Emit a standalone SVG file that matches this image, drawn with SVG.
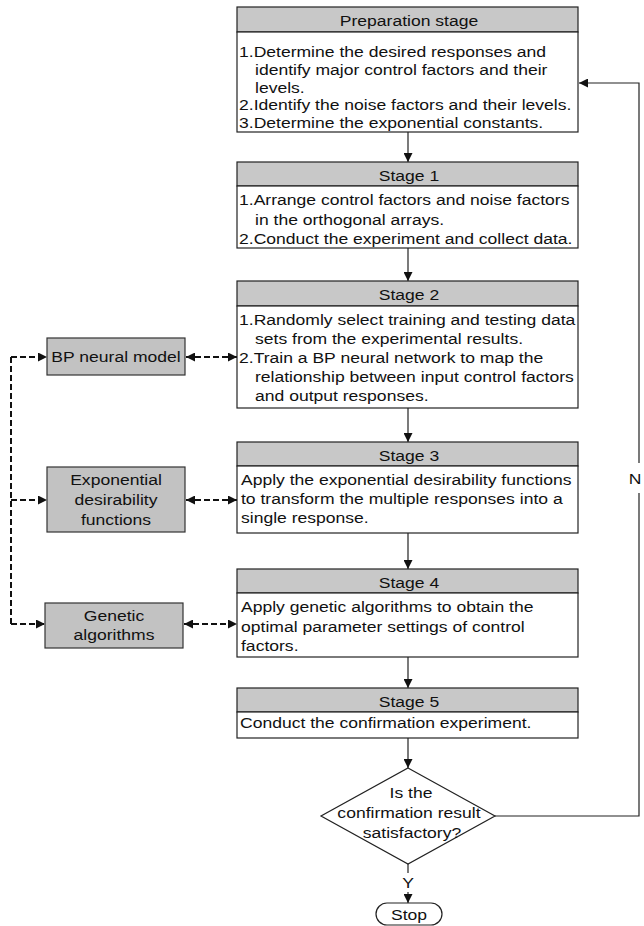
<svg xmlns="http://www.w3.org/2000/svg" width="644" height="926" viewBox="0 0 644 926">
<style>
.t{font-family:"Liberation Sans",Arial,sans-serif;font-size:15px;fill:#111}
.m{text-anchor:middle}
.hd{fill:#c8c8c8;stroke:#222;stroke-width:1.2}
.bd{fill:#fff;stroke:#222;stroke-width:1.2}
.side{fill:#c2c2c2;stroke:#333;stroke-width:1.2}
.ln{fill:none;stroke:#222;stroke-width:1.2}
.ds{fill:none;stroke:#111;stroke-width:2;stroke-dasharray:6 3}
</style>
<defs>
<marker id="a" viewBox="0 0 10 10" refX="10" refY="5" markerUnits="userSpaceOnUse" markerWidth="9" markerHeight="9" orient="auto-start-reverse">
<path d="M0,0 L10,5 L0,10 z" fill="#111"/>
</marker>
</defs>
<rect width="644" height="926" fill="#fff"/>

<g id="connectors">
<line class="ln" x1="408" y1="132" x2="408" y2="162" marker-end="url(#a)"/>
<line class="ln" x1="408" y1="248" x2="408" y2="281" marker-end="url(#a)"/>
<line class="ln" x1="408" y1="408" x2="408" y2="442" marker-end="url(#a)"/>
<line class="ln" x1="408" y1="533" x2="408" y2="569" marker-end="url(#a)"/>
<line class="ln" x1="408" y1="657" x2="408" y2="688" marker-end="url(#a)"/>
<line class="ln" x1="408" y1="738" x2="408" y2="768" marker-end="url(#a)"/>
<line class="ln" x1="408" y1="864" x2="408" y2="873"/>
<line class="ln" x1="408" y1="892" x2="408" y2="903" marker-end="url(#a)"/>
<polyline class="ln" points="495,816 639,816 639,493"/>
<polyline class="ln" points="639,463 639,83 579,83" marker-end="url(#a)"/>
<text class="t m" transform="translate(635 484) scale(1.17 1)">N</text>
<text class="t m" transform="translate(408 888) scale(1.17 1)">Y</text>
<polyline class="ds" points="11,357 11,624"/>
<line class="ds" x1="11" y1="357" x2="47" y2="357" marker-end="url(#a)"/>
<line class="ds" x1="11" y1="500" x2="47" y2="500" marker-end="url(#a)"/>
<line class="ds" x1="11" y1="624" x2="45" y2="624" marker-end="url(#a)"/>
<line class="ds" x1="186" y1="357" x2="237" y2="357" marker-start="url(#a)" marker-end="url(#a)"/>
<line class="ds" x1="186" y1="500" x2="237" y2="500" marker-start="url(#a)" marker-end="url(#a)"/>
<line class="ds" x1="184" y1="624" x2="237" y2="624" marker-start="url(#a)" marker-end="url(#a)"/>
</g>

<g id="prep">
<rect class="hd" x="237" y="7" width="341" height="25"/>
<rect class="bd" x="237" y="32" width="341" height="100"/>
<text class="t m" transform="translate(409 25.5) scale(1.17 1)">Preparation stage</text>
<text class="t" transform="translate(239 57) scale(1.17 1)">1.Determine the desired responses and</text>
<text class="t" transform="translate(255 74.75) scale(1.17 1)">identify major control factors and their</text>
<text class="t" transform="translate(255 92.5) scale(1.17 1)">levels.</text>
<text class="t" transform="translate(239 110.25) scale(1.17 1)">2.Identify the noise factors and their levels.</text>
<text class="t" transform="translate(239 128) scale(1.17 1)">3.Determine the exponential constants.</text>
</g>

<g id="stage1">
<rect class="hd" x="237" y="162" width="341" height="24"/>
<rect class="bd" x="237" y="186" width="341" height="62"/>
<text class="t m" transform="translate(409 180.5) scale(1.17 1)">Stage 1</text>
<text class="t" transform="translate(239 205) scale(1.17 1)">1.Arrange control factors and noise factors</text>
<text class="t" transform="translate(255 224.5) scale(1.17 1)">in the orthogonal arrays.</text>
<text class="t" transform="translate(239 244) scale(1.17 1)">2.Conduct the experiment and collect data.</text>
</g>

<g id="stage2">
<rect class="hd" x="237" y="281" width="341" height="25"/>
<rect class="bd" x="237" y="306" width="341" height="102"/>
<text class="t m" transform="translate(409 299.5) scale(1.17 1)">Stage 2</text>
<text class="t" transform="translate(239 325) scale(1.17 1)">1.Randomly select training and testing data</text>
<text class="t" transform="translate(255 344) scale(1.17 1)">sets from the experimental results.</text>
<text class="t" transform="translate(239 363) scale(1.17 1)">2.Train a BP neural network to map the</text>
<text class="t" transform="translate(255 382) scale(1.17 1)">relationship between input control factors</text>
<text class="t" transform="translate(255 401) scale(1.17 1)">and output responses.</text>
</g>

<g id="stage3">
<rect class="hd" x="237" y="442" width="341" height="24"/>
<rect class="bd" x="237" y="466" width="341" height="67"/>
<text class="t m" transform="translate(409 460.5) scale(1.17 1)">Stage 3</text>
<text class="t" transform="translate(241 485) scale(1.17 1)">Apply the exponential desirability functions</text>
<text class="t" transform="translate(241 504) scale(1.17 1)">to transform the multiple responses into a</text>
<text class="t" transform="translate(241 523) scale(1.17 1)">single response.</text>
</g>

<g id="stage4">
<rect class="hd" x="237" y="569" width="341" height="24"/>
<rect class="bd" x="237" y="593" width="341" height="64"/>
<text class="t m" transform="translate(409 587.5) scale(1.17 1)">Stage 4</text>
<text class="t" transform="translate(241 612) scale(1.17 1)">Apply genetic algorithms to obtain the</text>
<text class="t" transform="translate(241 631.5) scale(1.17 1)">optimal parameter settings of control</text>
<text class="t" transform="translate(241 651) scale(1.17 1)">factors.</text>
</g>

<g id="stage5">
<rect class="hd" x="237" y="688" width="341" height="24"/>
<rect class="bd" x="237" y="712" width="341" height="26"/>
<text class="t m" transform="translate(409 706.5) scale(1.17 1)">Stage 5</text>
<text class="t" transform="translate(240 728) scale(1.17 1)">Conduct the confirmation experiment.</text>
</g>

<g id="decision">
<polygon class="bd" points="408,768 495,816 408,864 321,816"/>
<text class="t m" transform="translate(411 798) scale(1.17 1)">Is the</text>
<text class="t m" transform="translate(409 818) scale(1.17 1)">confirmation result</text>
<text class="t m" transform="translate(412 838) scale(1.17 1)">satisfactory?</text>
</g>

<g id="stop">
<rect class="bd" x="376" y="903" width="66" height="22" rx="11" ry="11"/>
<text class="t m" transform="translate(409 920) scale(1.17 1)">Stop</text>
</g>

<g id="bp">
<rect class="side" x="47" y="338" width="138" height="37"/>
<text class="t m" transform="translate(116 362) scale(1.17 1)">BP neural model</text>
</g>

<g id="expdes">
<rect class="side" x="47" y="467" width="138" height="65"/>
<text class="t m" transform="translate(116 485) scale(1.17 1)">Exponential</text>
<text class="t m" transform="translate(116 505) scale(1.17 1)">desirability</text>
<text class="t m" transform="translate(116 525) scale(1.17 1)">functions</text>
</g>

<g id="ga">
<rect class="side" x="45" y="603" width="138" height="45"/>
<text class="t m" transform="translate(114 621) scale(1.17 1)">Genetic</text>
<text class="t m" transform="translate(114 640) scale(1.17 1)">algorithms</text>
</g>
</svg>
